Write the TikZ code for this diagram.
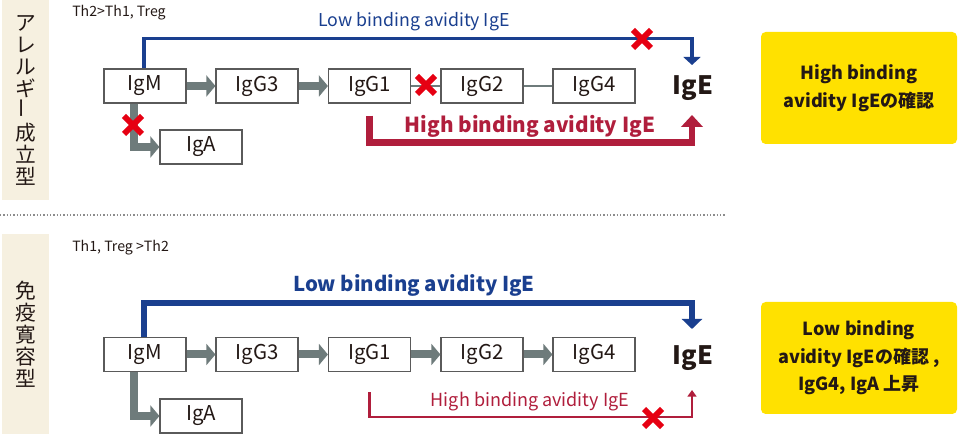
\documentclass[tikz,border=0pt]{standalone}
\usepackage{fontspec}
\setmainfont{Noto Sans CJK JP}
\usetikzlibrary{arrows.meta}
\definecolor{ink}{HTML}{231815}
\definecolor{beige}{HTML}{F6F0E0}
\definecolor{arrgray}{HTML}{6E7B7B}
\definecolor{boxline}{HTML}{5A5A5A}
\definecolor{navy}{HTML}{1A3F8F}
\definecolor{crimson}{HTML}{B01E3C}
\definecolor{xred}{HTML}{E60012}
\definecolor{ylw}{HTML}{FFE100}
\definecolor{dotgray}{HTML}{8C8C8C}
\tikzset{
  igbox/.style={draw=boxline, line width=0.9pt, fill=white, minimum width=61.5pt, minimum height=25.5pt, inner sep=0pt, text=ink, font=\fontsize{15.3pt}{18pt}\selectfont},
  sidebox/.style={fill=beige, minimum width=35.25pt, minimum height=150pt, inner sep=0pt, text=ink, align=center, font=\fontsize{15.5pt}{16.5pt}\selectfont},
  ybox/.style={fill=ylw, rounded corners=3.5pt, minimum width=147pt, minimum height=84pt, inner sep=0pt, text=ink, align=center, font=\bfseries\fontsize{13.5pt}{20.6pt}\selectfont},
  iglabel/.style={text=ink, inner sep=0pt, font=\bfseries\fontsize{19pt}{22pt}\selectfont},
  thlabel/.style={text=ink, anchor=west, inner sep=0pt, font=\fontsize{10.6pt}{12pt}\selectfont},
  garrow/.style={draw=arrgray, line width=6pt, -{Triangle[length=6.75pt,width=15.75pt]}},
  gline/.style={draw=arrgray, line width=2.2pt},
  bluethin/.style={draw=navy, line width=2.4pt, -{Triangle[length=6pt,width=12.75pt]}},
  bluethick/.style={draw=navy, line width=4.1pt, -{Triangle[length=7.5pt,width=15pt]}},
  redthick/.style={draw=crimson, line width=4.8pt, -{Triangle[length=9pt,width=16pt]}},
  redthin/.style={draw=crimson, line width=1.8pt, -{Triangle[length=5pt,width=6.75pt]}},
  redx/.pic={\draw[xred, line width=4.3pt] (-9,-9) -- (9,9) (-9,9) -- (9,-9);}
}
\begin{document}
\begin{tikzpicture}[x=0.75pt,y=-0.75pt]
\useasboundingbox (0,0) rectangle (958,434);

% side labels
\node[sidebox] (sideT) at (25.5,100) {ア\\レ\\ル\\ギ\\\rotatebox{90}{ー}\\成\\立\\型};
\node[sidebox] (sideB) at (25.5,334) {免\\疫\\寛\\容\\型};

\draw[dotgray, line width=1.1pt, dash pattern=on 1.1pt off 1.4pt] (0,215) -- (725,215);

\node[thlabel] (thT) at (72,13) {Th2>Th1, Treg};
\node[thlabel] (thB) at (72,248) {Th1, Treg >Th2};

% ===== top =====
\node[igbox] (igmT) at (145,86) {IgM};
\node[igbox] (igg3T) at (257,86) {IgG3};
\node[igbox] (igg1T) at (369.5,86) {IgG1};
\node[igbox] (igg2T) at (482,86) {IgG2};
\node[igbox] (igg4T) at (594,86) {IgG4};
\node[igbox] (igaT) at (201,147) {IgA};
\node[iglabel] (igeT) at (693,88) {IgE};
\coordinate (lowTipT) at (692,65);
\coordinate (highTipT) at (692,115);

\draw[garrow] (igmT.east) -- (igg3T.west);
\draw[garrow] (igg3T.east) -- (igg1T.west);
\draw[gline] (igg1T.east) -- (igg2T.west);
\draw[gline] (igg2T.east) -- (igg4T.west);
\draw[garrow] ([xshift=-8.25pt]igmT.south) |- (igaT.west);

\draw[bluethin] ([xshift=-0.75pt]igmT.north) -- ++(0,-30) -| (lowTipT);
\node[text=navy, inner sep=0pt, font=\fontsize{13.3pt}{15pt}\selectfont] (lowLblT) at (414,22) {Low binding avidity IgE};
\draw[redthick] ([yshift=-9pt]igg1T.south) -- ++(0,27) -| (highTipT);
\node[text=crimson, inner sep=0pt, font=\bfseries\fontsize{15.5pt}{17pt}\selectfont] (highLblT) at (530,126) {High binding avidity IgE};

\pic at (642,39) {redx};
\pic at (426,85) {redx};
\pic at (133,125) {redx};

\node[ybox] (resT) at (859,88) {High binding\\avidity IgEの確認};

% ===== bottom =====
\node[igbox] (igmB) at (145,354.5) {IgM};
\node[igbox] (igg3B) at (257,354.5) {IgG3};
\node[igbox] (igg1B) at (369.5,354.5) {IgG1};
\node[igbox] (igg2B) at (482,354.5) {IgG2};
\node[igbox] (igg4B) at (594,354.5) {IgG4};
\node[igbox] (igaB) at (201,416) {IgA};
\node[iglabel] (igeB) at (693,358) {IgE};
\coordinate (lowTipB) at (692,329);
\coordinate (highTipB) at (692,390);

\draw[garrow] (igmB.east) -- (igg3B.west);
\draw[garrow] (igg3B.east) -- (igg1B.west);
\draw[garrow] (igg1B.east) -- (igg2B.west);
\draw[garrow] (igg2B.east) -- (igg4B.west);
\draw[garrow] ([xshift=-8.25pt]igmB.south) |- (igaB.west);

\draw[bluethick] ([xshift=-0.75pt]igmB.north) -- ++(0,-34) -| (lowTipB);
\node[text=navy, inner sep=0pt, font=\bfseries\fontsize{15.3pt}{17pt}\selectfont] (lowLblB) at (414,285) {Low binding avidity IgE};
\draw[redthin] ([yshift=-15pt]igg1B.south) -- ++(0,25) -| (highTipB);
\node[text=crimson, inner sep=0pt, font=\fontsize{13.5pt}{15pt}\selectfont] (highLblB) at (530,402) {High binding avidity IgE};

\pic at (653,418) {redx};

\node[ybox] (resB) at (859,358) {Low binding\\avidity IgEの確認 ,\\IgG4, IgA 上昇};
\end{tikzpicture}
\end{document}
